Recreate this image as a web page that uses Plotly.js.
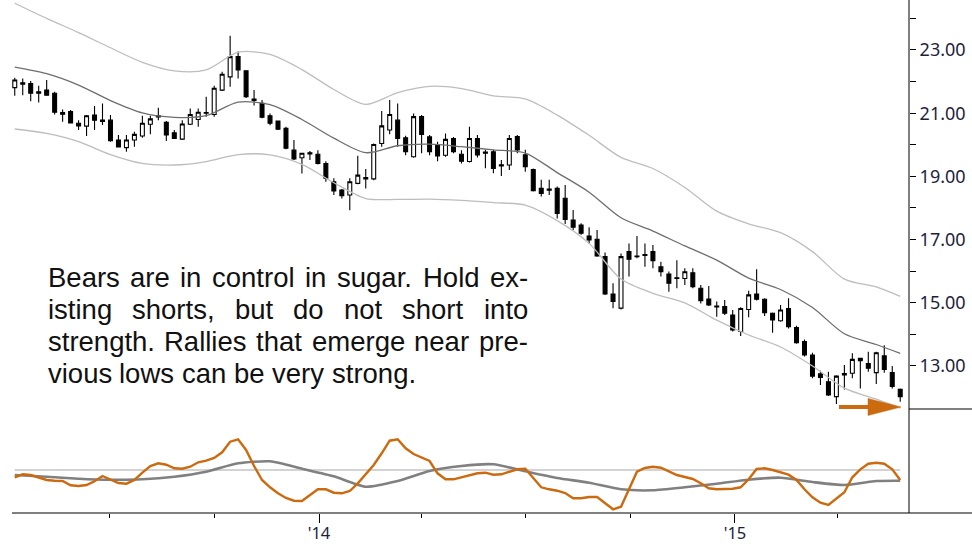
<!DOCTYPE html>
<html>
<head>
<meta charset="utf-8">
<script src="https://cdn.plot.ly/plotly-3.0.1.min.js"></script>
<style>html,body{margin:0;padding:0;background:#fff;}#chart{width:972px;height:547px;}</style>
</head>
<body>
<div id="chart"></div>
<script>
// ---- weekly sugar candles ----
const startDate = '2013-04-09';
const opens  = [21.81,21.96,21.94,21.68,21.73,21.63,21.02,21.05,20.68,20.59,20.94,20.78,20.78,20.15,19.91,20.15,20.28,20.65,20.92,20.71,20.38,20.18,20.65,20.80,21.00,20.96,21.73,22.15,22.79,22.34,21.45,21.31,20.92,20.75,20.52,19.83,19.59,19.75,19.70,19.41,18.83,18.57,18.41,18.78,18.92,18.92,20.04,20.47,20.78,20.22,19.62,20.89,20.25,20.01,19.67,20.20,19.70,19.47,20.20,19.77,19.78,19.37,19.36,20.26,19.68,19.22,18.62,18.60,18.62,18.31,17.62,17.46,17.11,17.01,16.46,15.28,14.83,16.62,16.48,16.53,16.62,16.14,15.91,15.79,15.77,15.95,15.46,15.12,14.90,14.88,14.61,14.09,14.79,15.28,15.11,14.67,14.43,14.82,14.22,13.77,13.35,12.75,12.50,12.03,12.72,12.77,13.24,13.08,12.79,13.32,12.79,12.26];
const highs  = [22.12,22.10,22.02,21.87,22.05,21.68,21.12,21.10,20.78,20.94,21.23,21.31,20.94,20.31,20.31,20.41,20.92,20.92,21.17,20.75,20.47,20.78,21.15,21.15,21.52,21.87,22.31,23.45,22.95,22.36,21.73,21.42,20.99,20.77,20.57,20.15,19.75,19.80,19.83,19.48,18.94,18.60,18.94,19.65,19.23,20.04,21.07,21.42,21.31,20.29,20.99,20.94,20.31,20.10,20.36,20.25,19.83,20.57,20.31,19.84,19.84,19.52,20.31,20.31,19.84,19.25,18.89,18.89,18.68,18.73,17.94,17.52,17.39,17.30,16.59,15.62,16.56,16.88,17.11,16.88,16.83,16.30,15.99,16.35,16.09,16.09,15.56,15.53,15.04,15.09,14.77,14.86,15.38,16.06,15.14,14.69,14.93,15.14,14.27,13.84,13.42,12.85,12.82,12.71,13.03,13.40,13.24,13.45,13.45,13.66,13.00,12.29];
const lows   = [21.55,21.57,21.38,21.34,21.55,20.96,20.73,20.67,20.47,20.28,20.47,20.63,20.10,19.92,19.78,19.94,20.22,20.33,20.78,20.12,20.18,20.15,20.63,20.57,20.89,20.89,21.70,21.84,22.10,21.48,21.24,20.84,20.62,20.47,19.86,19.52,19.09,19.52,19.38,18.83,18.41,18.30,17.93,18.75,18.62,18.88,19.94,20.33,19.94,19.67,19.59,19.73,19.67,19.48,19.62,19.73,19.41,19.44,19.60,19.26,19.10,19.01,19.20,19.73,19.15,18.52,18.36,18.41,17.67,17.49,17.30,17.15,16.88,16.46,15.25,14.83,14.79,15.83,16.41,16.14,16.09,15.83,15.35,15.46,15.56,15.46,14.98,14.90,14.56,14.61,14.09,13.95,14.54,15.07,14.58,14.05,14.40,14.19,13.70,13.30,12.61,12.40,12.05,11.80,12.26,12.61,12.29,12.82,12.43,12.79,12.29,11.87];
const closes = [22.05,21.92,21.63,21.63,21.57,21.03,20.97,20.69,20.60,20.92,20.78,20.74,20.13,19.93,20.15,20.33,20.68,20.82,20.88,20.31,20.20,20.66,20.96,21.03,21.02,21.79,22.23,22.79,22.37,21.52,21.40,20.87,20.68,20.49,19.89,19.55,19.73,19.71,19.41,18.94,18.54,18.39,18.83,19.04,18.96,20.01,20.60,20.96,20.20,19.78,20.89,20.33,19.78,19.65,20.17,19.78,19.48,20.20,19.68,19.73,19.25,19.33,20.20,19.84,19.31,18.55,18.46,18.56,17.83,17.64,17.39,17.20,16.99,16.48,15.28,15.04,16.46,16.38,16.46,16.50,16.33,15.98,15.62,15.77,15.98,15.51,15.07,14.93,14.87,14.67,14.14,14.82,15.25,15.11,14.69,14.46,14.77,14.24,13.74,13.35,12.68,12.64,12.08,12.68,12.76,13.21,13.17,12.93,13.42,12.89,12.35,12.03];

// ---- channel lines, sampled at these candle numbers ----
const bandCandles = [1,5,9,13,17,21,25,29,33,37,41,45,49,53,57,61,65,69,73,77,81,85,89,93,97,101,105,109,112];
const bandMid   = [22.46,22.25,21.89,21.40,21.01,20.87,20.92,21.35,21.27,20.80,20.21,19.75,19.97,20.02,19.94,19.84,19.74,19.12,18.50,17.69,17.27,16.80,16.35,15.78,15.42,14.85,14.02,13.68,13.40];
const bandUpper = [24.48,24.00,23.55,23.07,22.61,22.34,22.37,22.93,22.86,22.38,21.75,21.28,21.65,21.85,21.78,21.55,21.45,20.94,20.30,19.60,19.25,18.65,17.90,17.50,17.22,16.62,15.75,15.50,15.20];
const bandLower = [20.50,20.36,20.10,19.69,19.41,19.36,19.47,19.69,19.68,19.38,18.80,18.30,18.27,18.28,18.24,18.17,18.09,17.60,16.88,15.75,15.30,15.00,14.45,13.98,13.60,13.00,12.30,11.95,11.67];

// ---- lower panel oscillator (orange: weekly values; gray: sampled at bandCandles) ----
const oscFast = [-0.73,-0.43,-0.50,-0.77,-1.00,-1.07,-1.10,-1.53,-1.60,-1.50,-1.13,-0.60,-0.93,-1.30,-1.37,-1.00,-0.27,0.40,0.67,0.53,0.17,0.13,0.33,0.77,0.93,1.20,1.77,2.83,3.07,2.00,0.40,-1.00,-1.73,-2.33,-2.80,-3.07,-3.10,-2.50,-1.93,-1.93,-2.27,-2.33,-2.10,-1.33,-0.43,0.50,1.67,2.93,3.07,2.17,1.60,1.27,0.90,-0.33,-0.93,-0.93,-0.73,-0.53,-0.33,-0.27,-0.47,-0.43,-0.17,0.07,0.13,-0.83,-1.73,-1.93,-2.07,-2.30,-2.83,-2.83,-2.70,-2.70,-3.27,-3.93,-3.67,-2.00,-0.17,0.20,0.33,0.23,-0.17,-0.50,-0.70,-0.90,-1.33,-1.83,-1.93,-1.93,-1.87,-1.73,-0.93,0.10,0.17,0.00,-0.27,-0.47,-1.00,-1.93,-2.73,-3.27,-3.50,-2.90,-2.23,-0.73,0.07,0.63,0.73,0.63,0.07,-1.00];
const oscSlow = [-0.50,-0.67,-0.87,-0.97,-0.93,-0.67,-0.17,0.67,0.87,0.13,-0.63,-1.67,-1.10,-0.10,0.40,0.57,-0.13,-0.80,-1.27,-1.93,-2.03,-1.73,-1.37,-0.97,-0.77,-1.20,-1.50,-1.10,-1.07];
const oscRefLevel = 0;

// ---- axis labels ----
const priceTickVals = [13,14,15,16,17,18,19,20,21,22,23,24];
const priceTickText = ['13.00','','15.00','','17.00','','19.00','','21.00','','23.00',''];

// ---- commentary text ----
const noteLines = [
  {text: 'Bears are in control in sugar. Hold ex-', justify: true},
  {text: 'isting shorts, but do not short into', justify: true},
  {text: 'strength. Rallies that emerge near pre-', justify: true},
  {text: 'vious lows can be very strong.', justify: false}
];

// ---------------------------------------------------------------
const DAY = 86400000;
const t0 = Date.parse(startDate + 'T00:00:00Z');
const iso = ms => new Date(ms).toISOString().slice(0, 10);
const dates = opens.map((_, i) => iso(t0 + i * 7 * DAY));
const bandDates = bandCandles.map(n => dates[n - 1]);

// plot-area geometry (pixels)
const W = 972, H = 547, ML = 12, MR = 63, MT = 0, MB = 34;
const PW = W - ML - MR, PH = H - MT - MB;
const px2x = px => (px - ML) / PW;
const py2y = py => (H - MB - py) / PH;
const splitY = py2y(409);

const traces = [
  {type: 'scatter', mode: 'lines', x: bandDates, y: bandUpper, xaxis: 'x', yaxis: 'y',
   line: {color: '#bdbdbd', width: 1.3, shape: 'spline', smoothing: 0.8}, hoverinfo: 'skip'},
  {type: 'scatter', mode: 'lines', x: bandDates, y: bandLower, xaxis: 'x', yaxis: 'y',
   line: {color: '#bdbdbd', width: 1.3, shape: 'spline', smoothing: 0.8}, hoverinfo: 'skip'},
  {type: 'scatter', mode: 'lines', x: bandDates, y: bandMid, xaxis: 'x', yaxis: 'y',
   line: {color: '#6e6e6e', width: 1.3, shape: 'spline', smoothing: 0.8}, hoverinfo: 'skip'},
  {type: 'candlestick', x: dates, open: opens, high: highs, low: lows, close: closes,
   xaxis: 'x', yaxis: 'y', whiskerwidth: 0,
   increasing: {line: {color: '#000', width: 1.1}, fillcolor: '#ffffff'},
   decreasing: {line: {color: '#000', width: 1.1}, fillcolor: '#000000'}},
  {type: 'scatter', mode: 'lines', x: [dates[0], dates[dates.length - 1]], y: [oscRefLevel, oscRefLevel],
   xaxis: 'x', yaxis: 'y2', line: {color: '#c4c4c4', width: 1.5}, hoverinfo: 'skip'},
  {type: 'scatter', mode: 'lines', x: bandDates, y: oscSlow, xaxis: 'x', yaxis: 'y2',
   line: {color: '#808080', width: 2.6, shape: 'spline', smoothing: 0.6}, hoverinfo: 'skip'},
  {type: 'scatter', mode: 'lines', x: dates, y: oscFast, xaxis: 'x', yaxis: 'y2',
   line: {color: '#cc6a10', width: 2.4}, hoverinfo: 'skip'}
];

// justified commentary, one annotation per word
const noteFont = 'Liberation Sans', noteSize = 27.5;
const noteLeft = 47.5, noteRight = 528, noteBase0 = 287.3, noteLead = 31.8;
const cv = document.createElement('canvas').getContext('2d');
cv.font = noteSize + 'px "' + noteFont + '"';
const annotations = [];
noteLines.forEach((ln, k) => {
  const words = ln.text.split(' ');
  const widths = words.map(w => cv.measureText(w).width);
  const total = widths.reduce((a, b) => a + b, 0);
  const gap = ln.justify ? (noteRight - noteLeft - total) / (words.length - 1) : cv.measureText(' ').width;
  let cx = noteLeft;
  const cy = noteBase0 + k * noteLead - 0.35 * noteSize;
  words.forEach((w, j) => {
    annotations.push({xref: 'paper', yref: 'paper', x: px2x(cx), y: py2y(cy), xanchor: 'left', yanchor: 'middle',
      text: w, showarrow: false, borderpad: 0, borderwidth: 0,
      font: {family: noteFont, size: noteSize, color: '#111111'}});
    cx += widths[j] + gap;
  });
});

const orange = '#cc6a10';
const shapes = [
  // right axis line through both panels
  {type: 'line', xref: 'paper', yref: 'paper', x0: 1, x1: 1, y0: 0, y1: 1, line: {color: '#000', width: 1}},
  // bottom axis line running under the label column
  {type: 'line', xref: 'paper', yref: 'paper', x0: 0, x1: px2x(W), y0: 0, y1: 0, line: {color: '#000', width: 1}},
  // panel separator in the label column
  {type: 'line', xref: 'paper', yref: 'paper', x0: 1, x1: px2x(W), y0: splitY, y1: splitY, line: {color: '#000', width: 1}},
  // orange arrow
  {type: 'line', xref: 'paper', yref: 'paper', x0: px2x(839), x1: px2x(872), y0: py2y(407), y1: py2y(407),
   line: {color: orange, width: 4}},
  {type: 'path', xref: 'paper', yref: 'paper',
   path: 'M' + px2x(868) + ',' + py2y(398.5) + ' L' + px2x(901) + ',' + py2y(407) + ' L' + px2x(868) + ',' + py2y(415.5) + ' Z',
   fillcolor: orange, line: {color: orange, width: 0.5}}
];

const tickFont = {family: 'Noto Sans', size: 18, color: '#1e1e3c'};
const xTickFont = {family: 'Noto Sans', size: 16.5, color: '#1e1e3c'};
const layout = {
  width: W, height: H,
  margin: {l: ML, r: MR, t: MT, b: MB, pad: 0},
  paper_bgcolor: '#ffffff', plot_bgcolor: '#ffffff',
  showlegend: false,
  xaxis: {type: 'date', anchor: 'y2', range: ['2013-04-06 14:00', '2015-06-02 17:00'],
    showgrid: false, zeroline: false, showline: false,
    ticks: 'outside', ticklen: 9, tickcolor: '#000', tickwidth: 1,
    tick0: '2014-01-01', dtick: 'M12', tickformat: "'%y", tickfont: xTickFont, ticklabelstandoff: -4,
    minor: {tick0: '2013-01-01', dtick: 'M3', ticks: 'outside', ticklen: 4, tickcolor: '#000', tickwidth: 1, showgrid: false},
    rangeslider: {visible: false}, fixedrange: true},
  yaxis: {domain: [splitY, 1], side: 'right', anchor: 'x', range: [11.639, 24.582],
    showgrid: false, zeroline: false, showline: false,
    tickmode: 'array', tickvals: priceTickVals, ticktext: priceTickText,
    ticks: 'outside', ticklen: 6, tickcolor: '#000', tickfont: tickFont, fixedrange: true},
  yaxis2: {domain: [0, splitY], side: 'right', anchor: 'x', range: [-4.3, 6.1],
    showgrid: false, zeroline: false, showline: false, showticklabels: false, ticks: '', fixedrange: true},
  shapes: shapes,
  annotations: annotations
};

Plotly.newPlot('chart', traces, layout, {displayModeBar: false, staticPlot: true});
</script>
</body>
</html>
